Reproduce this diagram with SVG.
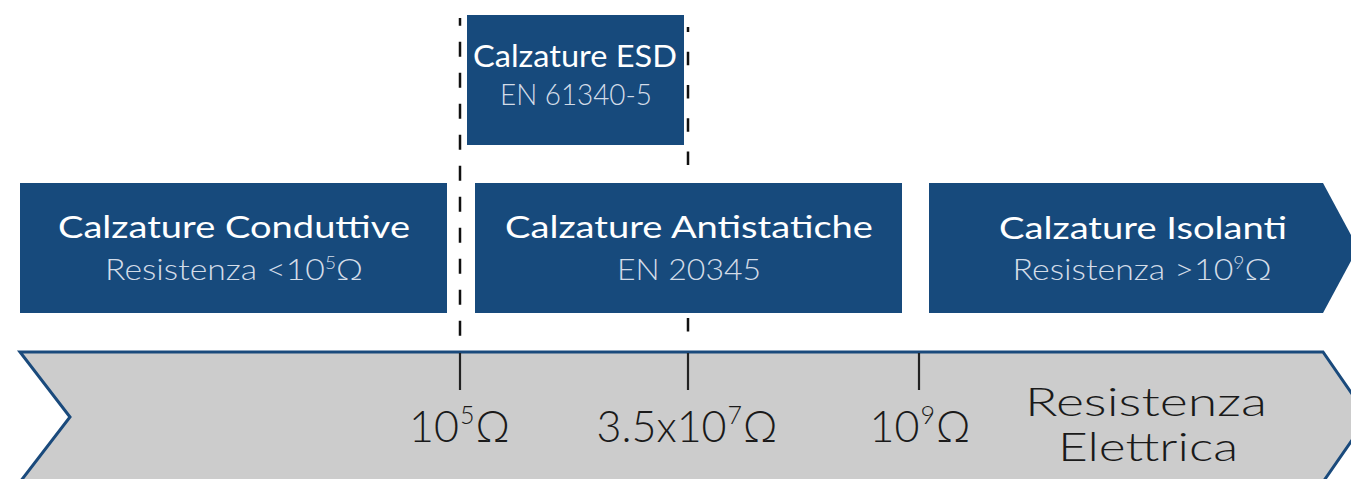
<svg xmlns="http://www.w3.org/2000/svg" width="1351" height="479" viewBox="0 0 1351 479">
<style>
.box{fill:#174a7c}
.t{font-family:Lato,"Open Sans","Liberation Sans",sans-serif;text-anchor:middle;font-feature-settings:"calt" 0}
.title{fill:#ffffff;font-size:31px;font-weight:400}
.sub{fill:#d3dce8;font-size:30px;font-weight:300}
.axis{fill:#1a1a1a;font-size:43px;font-weight:300}
.big{fill:#1a1a1a;font-size:40px;font-weight:300}
.dash{stroke:#111;stroke-width:2.5;fill:none}
.tick{stroke:#222;stroke-width:2.2}
</style>
<rect width="1351" height="479" fill="#ffffff"/>
<g id="connectors">
<line class="dash" x1="460" y1="18" x2="460" y2="336" stroke-dasharray="15 16" stroke-dashoffset="7.3"/>
<line class="dash" x1="688" y1="27" x2="688" y2="334" stroke-dasharray="13.5 19.8" stroke-dashoffset="8.6"/>
</g>
<g id="axis">
<path d="M20 352 L1323 352 L1368 417 L1323 482 L20 482 L70 417 Z" fill="#cccccc" stroke="#1a4a7c" stroke-width="3" stroke-linejoin="miter"/>
<line class="tick" x1="460" y1="353" x2="460" y2="390"/>
<line class="tick" x1="688" y1="353" x2="688" y2="390"/>
<line class="tick" x1="919" y1="353" x2="919" y2="390"/>
<text class="t axis" x="459.5" y="442">10<tspan font-size="25" dx="1" dy="-18">5</tspan><tspan dx="1" dy="18">Ω</tspan></text>
<text class="t axis" x="687" y="442">3.5x10<tspan font-size="25" dx="1" dy="-18">7</tspan><tspan dx="1" dy="18">Ω</tspan></text>
<text class="t axis" x="920" y="442">10<tspan font-size="25" dx="1" dy="-18">9</tspan><tspan dx="1" dy="18">Ω</tspan></text>
<text class="t big" x="1146" y="416" textLength="242" lengthAdjust="spacingAndGlyphs">Resistenza</text>
<text class="t big" x="1148" y="461" textLength="180" lengthAdjust="spacingAndGlyphs">Elettrica</text>
</g>
<g id="node-conduttive">
<rect class="box" x="20" y="183" width="427" height="130"/>
<text class="t title" x="234" y="238" textLength="352" lengthAdjust="spacingAndGlyphs">Calzature Conduttive</text>
<text class="t sub" x="234" y="280" textLength="258" lengthAdjust="spacingAndGlyphs">Resistenza &lt;10<tspan font-size="17" dy="-11">5</tspan><tspan dy="11">Ω</tspan></text>
</g>
<g id="node-antistatiche">
<rect class="box" x="475" y="183" width="427" height="130"/>
<text class="t title" x="689" y="238" textLength="368" lengthAdjust="spacingAndGlyphs">Calzature Antistatiche</text>
<text class="t sub" x="689" y="280" textLength="144" lengthAdjust="spacingAndGlyphs">EN 20345</text>
</g>
<g id="node-isolanti">
<path class="box" d="M929 183 L1323 183 L1358 248 L1323 313 L929 313 Z"/>
<text class="t title" x="1143" y="239" textLength="288" lengthAdjust="spacingAndGlyphs">Calzature Isolanti</text>
<text class="t sub" x="1142" y="280" textLength="259" lengthAdjust="spacingAndGlyphs">Resistenza &gt;10<tspan font-size="17" dy="-11">9</tspan><tspan dy="11">Ω</tspan></text>
</g>
<g id="node-esd">
<rect class="box" x="467" y="15" width="217" height="130"/>
<text class="t title" x="575" y="67" textLength="204" lengthAdjust="spacingAndGlyphs">Calzature ESD</text>
<text class="t sub" x="576" y="105" textLength="152" lengthAdjust="spacingAndGlyphs">EN 61340-5</text>
</g>
</svg>
